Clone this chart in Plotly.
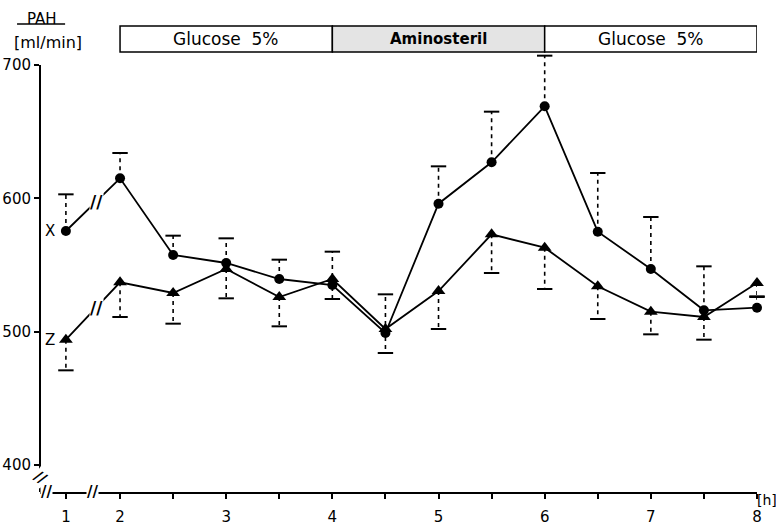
import plotly.graph_objects as go

# ---------------- data ----------------
hours = [1, 2, 2.5, 3, 3.5, 4, 4.5, 5, 5.5, 6, 6.5, 7, 7.5, 8]
pah_x = [575.5, 615, 557.5, 551.5, 539.5, 535, 499, 596, 627, 669, 575, 547, 516, 518]
pah_x_err = [27.5, 19, 14.5, 18.5, 14.5, 25, 29, 28, 38, 38, 44, 39, 33, 8]
pah_z = [494, 537, 529, 547, 526, 539.5, 502, 530.5, 573, 563, 534, 515, 511, 536.5]
pah_z_err = [23, 26, 23, 22, 22, 15, 18, 28.5, 29, 31, 24.5, 17, 17, 10]

phase_labels = ["Glucose  5%", "<b>Aminosteril</b>", "Glucose  5%"]
phase_start = [2, 4, 6]
phase_end = [4, 6, 8]
phase_fill = ["white", "#e4e4e4", "white"]

x_tick_hours = [1, 2, 2.5, 3, 3.5, 4, 4.5, 5, 5.5, 6, 6.5, 7, 7.5, 8]
x_tick_text = ["1", "2", "", "3", "", "4", "", "5", "", "6", "", "7", "", "8"]
y_tick_vals = [400, 500, 600, 700]

# the hour-1 point sits before a broken (compressed) axis segment
BROKEN_POS = 1.49
FONT = "DejaVu Sans"


def xpos(t):
    return BROKEN_POS if t == 1 else t


px = [xpos(t) for t in hours]

fig = go.Figure()


def add_errors(values, errs, sign):
    xs, ys = [], []
    cx, cy = [], []
    for p, v, e in zip(px, values, errs):
        end = v + sign * e
        xs += [p, p, None]
        ys += [v, end, None]
        cx.append(p)
        cy.append(end)
    fig.add_trace(go.Scatter(x=xs, y=ys, mode="lines",
                             line=dict(color="black", width=1.6, dash="4px,4px"),
                             hoverinfo="skip", showlegend=False))
    fig.add_trace(go.Scatter(x=cx, y=cy, mode="markers",
                             marker=dict(symbol="line-ew", size=11, color="black",
                                         line=dict(color="black", width=2)),
                             hoverinfo="skip", showlegend=False, cliponaxis=False))


add_errors(pah_x, pah_x_err, +1)
add_errors(pah_z, pah_z_err, -1)

fig.add_trace(go.Scatter(x=px, y=pah_x, mode="lines+markers", name="X",
                         line=dict(color="black", width=1.8),
                         marker=dict(symbol="circle", size=10, color="black"),
                         cliponaxis=False, showlegend=False))
fig.add_trace(go.Scatter(x=px, y=pah_z, mode="lines+markers", name="Z",
                         line=dict(color="black", width=1.8),
                         marker=dict(symbol="triangle-up", size=12, color="black"),
                         cliponaxis=False, showlegend=False))

Y_LO, Y_HI = 379.75, 709.75
shapes = []
annotations = []


def note(**kw):
    kw.setdefault("showarrow", False)
    kw.setdefault("xanchor", "center")
    kw.setdefault("yanchor", "middle")
    annotations.append(kw)


# y axis line (ends at 700)
shapes.append(dict(type="line", xref="paper", yref="y", x0=0, x1=0, y0=Y_LO, y1=700,
                   line=dict(color="black", width=2)))

# infusion phase boxes
for lab, s, e, fc in zip(phase_labels, phase_start, phase_end, phase_fill):
    shapes.append(dict(type="rect", xref="x", yref="paper", x0=s, x1=e, y0=1.0, y1=1.059,
                       line=dict(color="black", width=1.5), fillcolor=fc, layer="above"))
    note(x=(s + e) / 2, y=1.0295, xref="x", yref="paper", text=lab,
         font=dict(family=FONT, size=17 if "Glucose" in lab else 15, color="black"))

# series labels
note(x=px[0], y=pah_x[0], xref="x", yref="y", text="X", xshift=-16,
     font=dict(family=FONT, size=15, color="black"))
note(x=px[0], y=pah_z[0], xref="x", yref="y", text="Z", xshift=-16,
     font=dict(family=FONT, size=15, color="black"))

# breaks on the data lines between hour 1 and hour 2
for vals in (pah_x, pah_z):
    note(x=(px[0] + px[1]) / 2 + 0.03, y=(vals[0] + vals[1]) / 2 + 2,
         xref="x", yref="y", text="<b>//</b>", bgcolor="white", borderpad=0,
         font=dict(family=FONT, size=17, color="black"))

# breaks on the x axis
for bx in (1.31, 1.736):
    note(x=bx, y=0, xref="x", yref="paper", text="<b>//</b>", bgcolor="white", borderpad=0,
         font=dict(family=FONT, size=15, color="black"))
# break on the y axis
note(x=0, y=391, xref="paper", yref="y", text="<b>//</b>", textangle=35, borderpad=0,
     bgcolor="white", font=dict(family=FONT, size=15, color="black"))

# axis titles
note(x=0.003, y=1.075, xref="paper", yref="paper", text="PAH",
     font=dict(family=FONT, size=15, color="black"))
shapes.append(dict(type="line", xref="paper", yref="paper", x0=-0.032, x1=0.035,
                   y0=1.0636, y1=1.0636, line=dict(color="black", width=1.5)))
note(x=0.011, y=1.0205, xref="paper", yref="paper", text="[ml/min]",
     font=dict(family=FONT, size=16, color="black"))
note(x=1.0145, y=-0.018, xref="paper", yref="paper", text="[h]",
     font=dict(family=FONT, size=14, color="black"))

fig.update_layout(
    width=776, height=525,
    margin=dict(l=40, r=19, t=52, b=33),
    paper_bgcolor="white", plot_bgcolor="white",
    showlegend=False,
    shapes=shapes, annotations=annotations,
    xaxis=dict(range=[1.246, 8.0], showgrid=False, zeroline=False, automargin=False,
               showline=True, linecolor="black", linewidth=2,
               ticks="outside", ticklen=5, tickwidth=1.5, tickcolor="black",
               tickvals=[xpos(t) for t in x_tick_hours], ticktext=x_tick_text,
               ticklabelstandoff=5,
               tickfont=dict(family=FONT, size=15, color="black")),
    yaxis=dict(range=[Y_LO, Y_HI], showgrid=False, zeroline=False, showline=False,
               automargin=False,
               ticks="outside", ticklen=5, tickwidth=1.5, tickcolor="black",
               tickvals=y_tick_vals, ticklabelstandoff=0,
               tickfont=dict(family=FONT, size=15, color="black")),
)

# remove the default page margin so the figure fills the window exactly
fig.write_html("out.html", config={"displayModeBar": False},
               post_script="document.body.style.margin='0px';")
